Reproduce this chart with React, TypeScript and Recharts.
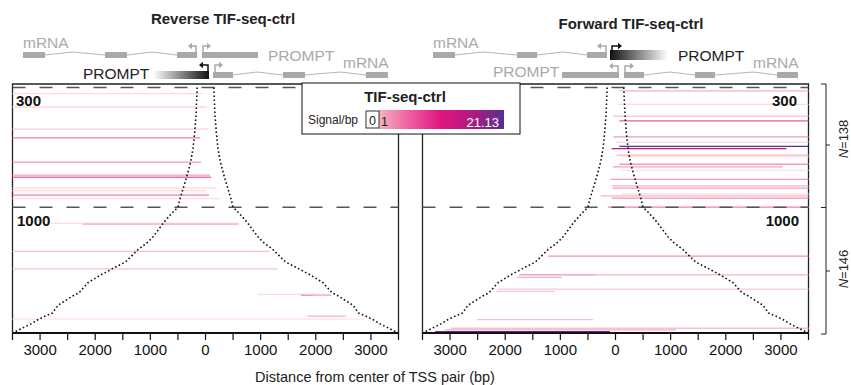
import { ComposedChart, XAxis, YAxis, Line, ReferenceLine, ReferenceArea } from "recharts";

const FONT = "'Liberation Sans', Arial, Helvetica, sans-serif";

// x axis: distance from centre of TSS pair (bp)
const xTicks = [-3500, -3000, -2500, -2000, -1500, -1000, -500, 0, 500, 1000, 1500, 2000, 2500, 3000, 3500];

// rows are sorted by TSS-pair distance; 4..142 = 300-1000 bp (N=138), 142..288 = >1000 bp (N=146)
const groupBreaks = [4, 142];
const curveRows = [4, 36, 55, 75, 90, 105, 114, 124, 133, 142, 150, 159, 176, 182, 191, 205, 220, 229, 241, 243, 255, 264, 268, 272, 276, 287];
const pairDist = [300, 345, 390, 455, 540, 665, 750, 845, 930, 1000, 1250, 1500, 1900, 2080, 2450, 2900, 3800, 4260, 4600, 4750, 5350, 5550, 5850, 6100, 6300, 7000];

// Reverse TIF-seq-ctrl reads
const revRows = [11, 26.5, 52, 62, 90, 105, 107.5, 120, 123, 128, 132, 160.5, 161.5, 193, 213, 242.5, 243.5, 243.5, 267.5, 271];
const revStart = [-3500, -3500, -3500, -3500, -3500, -3500, -3500, -3500, -3500, -3500, -3500, -2800, -2230, -3500, -3500, 950, 1730, 1950, 1850, -3500];
const revEnd = [-51, 27, 40, -100, -82, 82, 100, 203, 9, 63, 263, 600, 600, 1160, 1310, 2280, 1950, 2280, 2550, 2880];
const revSignal = [0.5, 0.5, 0.6, 4, 2.5, 2, 5, 0.5, 0.5, 4, 0.4, 0.4, 1.5, 0.8, 0.8, 0.5, 3, 1, 1, 0.4];

// Forward TIF-seq-ctrl reads
const fwdRows = [8, 23.5, 37, 42.5, 61, 67, 72, 74.5, 82, 84, 92.5, 95.5, 99.5, 110, 117.5, 120, 126.5, 129, 131.5, 142, 198.5, 220, 220, 223, 236.5, 239, 271.5, 281.5, 283.5, 285.5];
const fwdStart = [70, 50, -50, 70, -40, 10, 70, -70, 20, 110, 70, -50, 110, -90, -65, -55, 110, -270, -70, -136, -1220, -1745, -350, -1790, -2140, -2165, -2515, -2990, -3090, -3270];
const fwdEnd = [3500, 3500, 3500, 3500, 3500, 3500, 3500, 3100, 3500, 3500, 3500, 3030, 3500, 3500, 3500, 3500, 3500, 3500, 3500, 3500, 3500, -350, 3500, -975, 3500, -1100, -410, 3500, 1100, -100];
const fwdSignal = [1.2, 0.5, 0.8, 6, 2.5, 0.5, 21, 15, 1, 0.4, 2.5, 2, 0.4, 2.5, 1, 2.5, 0.4, 1, 3, 4, 3, 3, 1, 1, 0.7, 0.7, 0.8, 0.8, 1.2, 20];

// colour scale for Signal/bp
const signalStops = [0, 1, 6, 11, 16, 21.13];
const signalColors = ["#ffffff", "#f6b3bf", "#ec5d9f", "#df1580", "#b01a82", "#553090"];

function hexToRgb(h: string) {
  return [1, 3, 5].map((i) => parseInt(h.slice(i, i + 2), 16));
}

function signalColor(v: number) {
  for (let i = 1; i < signalStops.length; i++) {
    if (v <= signalStops[i]) {
      const t = (v - signalStops[i - 1]) / (signalStops[i] - signalStops[i - 1]);
      const a = hexToRgb(signalColors[i - 1]);
      const b = hexToRgb(signalColors[i]);
      const c = a.map((x, k) => Math.round(x + (b[k] - x) * t));
      return `rgb(${c[0]},${c[1]},${c[2]})`;
    }
  }
  return signalColors[signalColors.length - 1];
}

interface PanelProps {
  left: number;
  rows: number[];
  starts: number[];
  ends: number[];
  signals: number[];
}

function Panel({ left, rows, starts, ends, signals }: PanelProps) {
  const segs = rows.map((r, i) => ({ row: r, x1: starts[i], x2: ends[i], color: signalColor(signals[i]) }));
  const leftCurve = curveRows.map((r, i) => ({ x: -pairDist[i] / 2, y: r }));
  const rightCurve = curveRows.map((r, i) => ({ x: pairDist[i] / 2, y: r }));

  return (
    <div style={{ position: "absolute", left, top: 0 }}>
      <ComposedChart width={411} height={385} margin={{ top: 84, right: 12.5, bottom: 22, left: 12.5 }}>
        <XAxis
          type="number"
          dataKey="x"
          domain={[-3500, 3500]}
          ticks={xTicks}
          interval={0}
          allowDataOverflow
          tickFormatter={(v: number) => (v % 1000 === 0 ? String(Math.abs(v)) : "")}
          tick={{ fill: "#111", fontSize: 15, fontFamily: FONT }}
          tickSize={7}
          tickMargin={4}
          height={30}
          axisLine={{ stroke: "#111", strokeWidth: 2 }}
          tickLine={{ stroke: "#111", strokeWidth: 1.2 }}
        />
        <YAxis type="number" dataKey="y" domain={[0, 287]} reversed hide allowDataOverflow />
        {segs.map((s, i) => (
          <ReferenceLine
            key={i}
            segment={[
              { x: s.x1, y: s.row },
              { x: s.x2, y: s.row },
            ]}
            stroke={s.color}
            strokeWidth={1.3}
            ifOverflow="visible"
          />
        ))}
        {groupBreaks.map((b) => (
          <ReferenceLine key={b} y={b} stroke="#555" strokeWidth={1.6} strokeDasharray="13 14" />
        ))}
        <Line data={leftCurve} dataKey="y" type="linear" stroke="#111" strokeWidth={1.6} strokeDasharray="1.6 2.4" dot={false} isAnimationActive={false} />
        <Line data={rightCurve} dataKey="y" type="linear" stroke="#111" strokeWidth={1.6} strokeDasharray="1.6 2.4" dot={false} isAnimationActive={false} />
        <ReferenceArea x1={-3500} x2={3500} y1={0} y2={287} fill="none" stroke="#222" strokeWidth={1.3} ifOverflow="visible" />
      </ComposedChart>
    </div>
  );
}

function TssArrow({ x, base, top, head, color }: { x: number; base: number; top: number; head: number; color: string }) {
  const dir = head < x ? -1 : 1;
  return (
    <g>
      <polyline points={`${x},${base} ${x},${top} ${head - dir * 3},${top}`} stroke={color} strokeWidth={1.5} fill="none" />
      <polygon points={`${head},${top} ${head - dir * 4},${top - 3.2} ${head - dir * 4},${top + 3.2}`} fill={color} />
    </g>
  );
}

const GREY = "#a9a9a9";

function Overlay() {
  const gradStops = signalStops.slice(1);
  return (
    <svg width={851} height={385} style={{ position: "absolute", left: 0, top: 0, pointerEvents: "none" }} fontFamily={FONT}>
      <defs>
        <linearGradient id="sig" x1="0" x2="1" y1="0" y2="0">
          {gradStops.map((s, i) => (
            <stop key={s} offset={(s - 1) / (21.13 - 1)} stopColor={signalColors[i + 1]} />
          ))}
        </linearGradient>
        <linearGradient id="toBlack" x1="0" x2="1" y1="0" y2="0">
          <stop offset="0" stopColor="#ffffff" />
          <stop offset="1" stopColor="#111111" />
        </linearGradient>
        <linearGradient id="fromBlack" x1="0" x2="1" y1="0" y2="0">
          <stop offset="0" stopColor="#111111" />
          <stop offset="1" stopColor="#ffffff" />
        </linearGradient>
      </defs>

      {/* titles */}
      <text x={223} y={18} textAnchor="middle" dominantBaseline="central" fontWeight="bold" fontSize={15} fill="#222">
        Reverse TIF-seq-ctrl
      </text>
      <text x={631} y={23} textAnchor="middle" dominantBaseline="central" fontWeight="bold" fontSize={15} fill="#222">
        Forward TIF-seq-ctrl
      </text>

      {/* reverse gene diagram */}
      <g fill={GREY}>
        <text x={23} y={42} dominantBaseline="central" fontSize={15.5}>mRNA</text>
        <rect x={23} y={52} width={22} height={6} />
        <rect x={105} y={52} width={22} height={6} />
        <rect x={177} y={52} width={20} height={6} />
        <rect x={202} y={52} width={56} height={6} />
        <text x={268} y={55} dominantBaseline="central" fontSize={15.5}>PROMPT</text>
        <text x={343} y={62} dominantBaseline="central" fontSize={15.5}>mRNA</text>
        <rect x={213} y={72} width={20} height={6} />
        <rect x={283} y={72} width={22} height={6} />
        <rect x={366} y={72} width={22} height={6} />
      </g>
      <g stroke="#b5b5b5" strokeWidth={1} fill="none">
        <polyline points="45,55 72,52 105,55" />
        <polyline points="127,55 152,52 177,55" />
        <polyline points="233,75 257,72 283,75" />
        <polyline points="305,75 340,72 366,75" />
      </g>
      <TssArrow x={196} base={52} top={46} head={188} color={GREY} />
      <TssArrow x={203} base={52} top={46} head={211} color={GREY} />
      <text x={83} y={73} dominantBaseline="central" fontSize={15.5} fill="#222">PROMPT</text>
      <rect x={153} y={71} width={56} height={8} fill="url(#toBlack)" />
      <TssArrow x={208} base={72} top={65} head={199} color="#111" />
      <TssArrow x={215} base={73} top={65} head={223} color={GREY} />

      {/* forward gene diagram */}
      <g fill={GREY}>
        <text x={433} y={42} dominantBaseline="central" fontSize={15.5}>mRNA</text>
        <rect x={433} y={52} width={22} height={6} />
        <rect x={517} y={52} width={20} height={6} />
        <rect x={587} y={52} width={20} height={6} />
        <text x={493} y={71} dominantBaseline="central" fontSize={15.5}>PROMPT</text>
        <rect x={562} y={72} width={57} height={6} />
        <rect x={624} y={72} width={20} height={6} />
        <rect x={695} y={72} width={20} height={6} />
        <rect x={777} y={72} width={21} height={6} />
        <text x={753} y={62} dominantBaseline="central" fontSize={15.5}>mRNA</text>
      </g>
      <g stroke="#b5b5b5" strokeWidth={1} fill="none">
        <polyline points="455,55 483,52 517,55" />
        <polyline points="537,55 563,52 587,55" />
        <polyline points="644,75 670,72 695,75" />
        <polyline points="715,75 753,72 777,75" />
      </g>
      <TssArrow x={606} base={52} top={46} head={597} color={GREY} />
      <rect x={610} y={50} width={58} height={10} fill="url(#fromBlack)" />
      <TssArrow x={612} base={54} top={46} head={622} color="#111" />
      <text x={678} y={55} dominantBaseline="central" fontSize={15.5} fill="#222">PROMPT</text>
      <TssArrow x={618} base={72} top={66} head={609} color={GREY} />
      <TssArrow x={625} base={72} top={66} head={634} color={GREY} />

      {/* distance group labels */}
      <g fontWeight="bold" fontSize={15} fill="#111" dominantBaseline="central">
        <text x={16} y={100}>300</text>
        <text x={17} y={220}>1000</text>
        <text x={797} y={100} textAnchor="end">300</text>
        <text x={799} y={220} textAnchor="end">1000</text>
      </g>

      {/* colour legend */}
      <rect x={302} y={83} width={218} height={51} fill="#fff" stroke="#111" strokeWidth={1} />
      <text x={405} y={96} textAnchor="middle" dominantBaseline="central" fontWeight="bold" fontSize={15} fill="#222">TIF-seq-ctrl</text>
      <text x={308} y={120} dominantBaseline="central" fontSize={12} fill="#222">Signal/bp</text>
      <rect x={379} y={110} width={125} height={19} fill="url(#sig)" />
      <rect x={366} y={111} width={13} height={17} fill="#fff" stroke="#333" strokeWidth={1} />
      <text x={372.5} y={121} textAnchor="middle" dominantBaseline="central" fontSize={12.5} fill="#222">0</text>
      <text x={381} y={122} dominantBaseline="central" fontSize={12.5} fill="#222">1</text>
      <text x={499} y={122} textAnchor="end" dominantBaseline="central" fontSize={13} fill="#fff">21.13</text>

      {/* group size bracket */}
      <g stroke="#222" strokeWidth={1}>
        <line x1={826} y1={84} x2={826} y2={334} />
        <line x1={821} y1={84} x2={826} y2={84} />
        <line x1={821} y1={207.5} x2={826} y2={207.5} />
        <line x1={821} y1={334} x2={826} y2={334} />
        <line x1={826} y1={145} x2={830} y2={145} />
        <line x1={826} y1={271} x2={830} y2={271} />
      </g>
      <text transform="translate(843,139) rotate(-90)" textAnchor="middle" dominantBaseline="central" fontSize={13} fill="#222">
        <tspan fontStyle="italic">N</tspan>=138
      </text>
      <text transform="translate(843,269) rotate(-90)" textAnchor="middle" dominantBaseline="central" fontSize={13} fill="#222">
        <tspan fontStyle="italic">N</tspan>=146
      </text>

      <text x={375} y={377} textAnchor="middle" dominantBaseline="central" fontSize={14.5} fill="#222">
        Distance from center of TSS pair (bp)
      </text>
    </svg>
  );
}

export default function App() {
  return (
    <div style={{ position: "absolute", left: 0, top: 0, width: 851, height: 385, background: "#fff" }}>
      <Panel left={0} rows={revRows} starts={revStart} ends={revEnd} signals={revSignal} />
      <Panel left={410} rows={fwdRows} starts={fwdStart} ends={fwdEnd} signals={fwdSignal} />
      <Overlay />
    </div>
  );
}
